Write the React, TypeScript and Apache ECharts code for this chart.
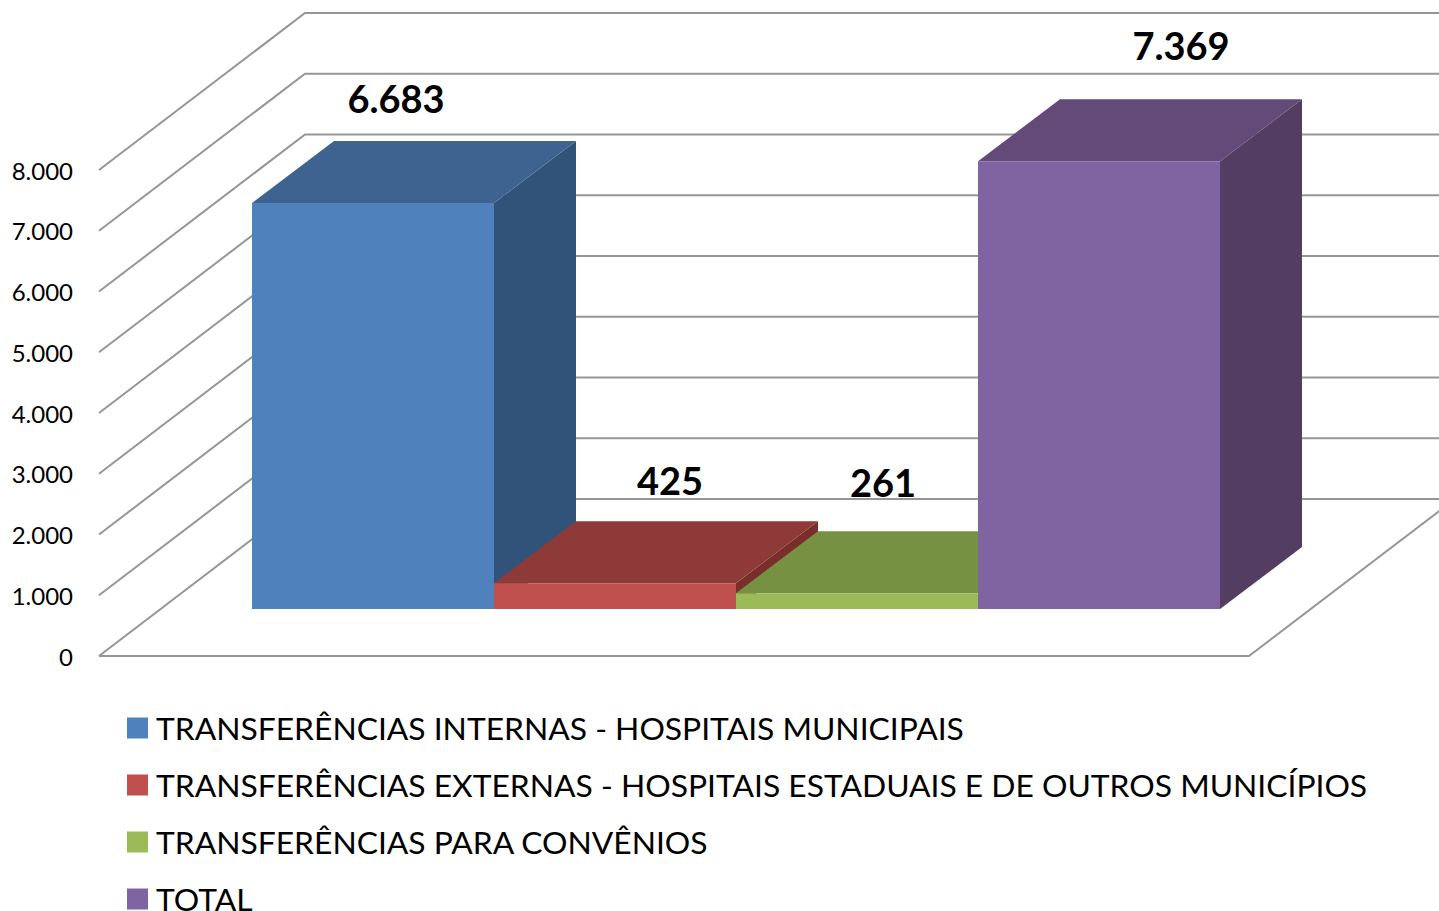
import React, { useEffect, useRef } from "react";
import * as echarts from "echarts";

const categories = ["Internas", "Externas", "Convênios", "Total"];
const seriesNames = [
  "TRANSFERÊNCIAS INTERNAS - HOSPITAIS MUNICIPAIS",
  "TRANSFERÊNCIAS EXTERNAS - HOSPITAIS ESTADUAIS E DE OUTROS MUNICÍPIOS",
  "TRANSFERÊNCIAS PARA CONVÊNIOS",
  "TOTAL",
];
const values = [6683, 425, 261, 7369];
const valueLabels = ["6.683", "425", "261", "7.369"];
const tickValues = [0, 1000, 2000, 3000, 4000, 5000, 6000, 7000, 8000];
const tickLabels = ["0", "1.000", "2.000", "3.000", "4.000", "5.000", "6.000", "7.000", "8.000"];

const frontColors = ["#4F81BD", "#C0504D", "#9BBB59", "#8064A2"];
const topColors = ["#3E6391", "#8E3A38", "#779143", "#634A78"];
const sideColors = ["#325379", "#7A2E2C", "#677D39", "#533D63"];
const labelOffsetX = [23, 55, 26, 82];
const labelOffsetY = [-105, -103, -111, -116];

const FONT = "Lato, Carlito, Calibri, sans-serif";
const DEPTH_X = 82;
const DEPTH_Y = -62;
const WALL_X = 206;
const WALL_Y = -157;
const LINE = { stroke: "#969696", lineWidth: 2, fill: "none" };

function App() {
  const ref = useRef<HTMLDivElement>(null);
  useEffect(() => {
    const chart = echarts.init(ref.current!, undefined, { renderer: "svg" });

    const barSeries = seriesNames.map((name, i) => ({
      type: "custom",
      name,
      xAxisIndex: 0,
      yAxisIndex: 0,
      clip: false,
      z: 3 + i,
      itemStyle: { color: frontColors[i] },
      data: [[i, values[i]]],
      renderItem: (_p: any, api: any) => {
        const cat = api.value(0);
        const top = api.coord([cat, api.value(1)]);
        const base = api.coord([cat, 0]);
        const w = api.size([1, 0])[0];
        const l = top[0] - w / 2;
        const r = top[0] + w / 2;
        const t = top[1];
        const b = base[1];
        return {
          type: "group",
          children: [
            {
              type: "polygon",
              shape: { points: [[r, t], [r + DEPTH_X, t + DEPTH_Y], [r + DEPTH_X, b + DEPTH_Y], [r, b]] },
              style: { fill: sideColors[i] },
            },
            {
              type: "polygon",
              shape: { points: [[l, t], [l + DEPTH_X, t + DEPTH_Y], [r + DEPTH_X, t + DEPTH_Y], [r, t]] },
              style: { fill: topColors[i] },
            },
            { type: "rect", shape: { x: l, y: t, width: w, height: b - t }, style: { fill: frontColors[i] } },
            {
              type: "text",
              style: {
                x: top[0] + labelOffsetX[i],
                y: t + labelOffsetY[i],
                text: valueLabels[i],
                fill: "#000000",
                fontFamily: FONT,
                fontWeight: "bold",
                fontSize: 38,
                align: "center",
                verticalAlign: "middle",
              },
            },
          ],
        };
      },
    }));

    chart.setOption({
      animation: false,
      backgroundColor: "#ffffff",
      legend: {
        show: true,
        orient: "vertical",
        left: 127,
        top: 712,
        height: 300,
        itemWidth: 21,
        itemHeight: 21,
        itemGap: 25,
        icon: "rect",
        padding: 0,
        selectedMode: false,
        textStyle: { fontFamily: FONT, fontSize: 31.8, color: "#000000", padding: [0, 0, 0, 3] },
        data: seriesNames,
      },
      grid: [
        { left: 252, top: 123, width: 968, height: 486 },
        { left: 99, top: 170, width: 1150, height: 486 },
      ],
      xAxis: [
        { type: "category", gridIndex: 0, data: categories, show: false },
        { type: "value", gridIndex: 1, min: 0, max: 1, show: false },
      ],
      yAxis: [
        { type: "value", gridIndex: 0, min: 0, max: 8000, interval: 1000, show: false },
        {
          type: "value",
          gridIndex: 1,
          min: 0,
          max: 8000,
          interval: 1000,
          axisLine: { show: false },
          axisTick: { show: false },
          splitLine: { show: false },
          axisLabel: {
            margin: 26,
            fontFamily: FONT,
            fontSize: 24,
            color: "#000000",
            padding: [0, 0, 4, 0],
            formatter: (v: number) => tickLabels[tickValues.indexOf(v)],
          },
        },
      ],
      series: [
        {
          type: "custom",
          name: "walls",
          xAxisIndex: 1,
          yAxisIndex: 1,
          clip: false,
          silent: true,
          z: 1,
          data: tickValues.map((v) => [0, v]),
          renderItem: (_p: any, api: any) => {
            const p = api.coord([0, api.value(1)]);
            return {
              type: "polyline",
              shape: {
                points: [
                  [p[0], p[1]],
                  [p[0] + WALL_X, p[1] + WALL_Y],
                  [1445, p[1] + WALL_Y],
                ],
              },
              style: LINE,
            };
          },
        },
        {
          type: "custom",
          name: "floor",
          xAxisIndex: 1,
          yAxisIndex: 1,
          clip: false,
          silent: true,
          z: 1,
          data: [[0, 0, 1]],
          renderItem: (_p: any, api: any) => {
            const a = api.coord([api.value(0), api.value(1)]);
            const b = api.coord([api.value(2), api.value(1)]);
            return {
              type: "polyline",
              shape: { points: [a, b, [b[0] + WALL_X, b[1] + WALL_Y]] },
              style: LINE,
            };
          },
        },
        ...barSeries,
      ],
    });
    return () => chart.dispose();
  }, []);
  return <div ref={ref} style={{ position: "absolute", left: 0, top: 0, width: 1439, height: 911, overflow: "hidden" }} />;
}

export default App;
